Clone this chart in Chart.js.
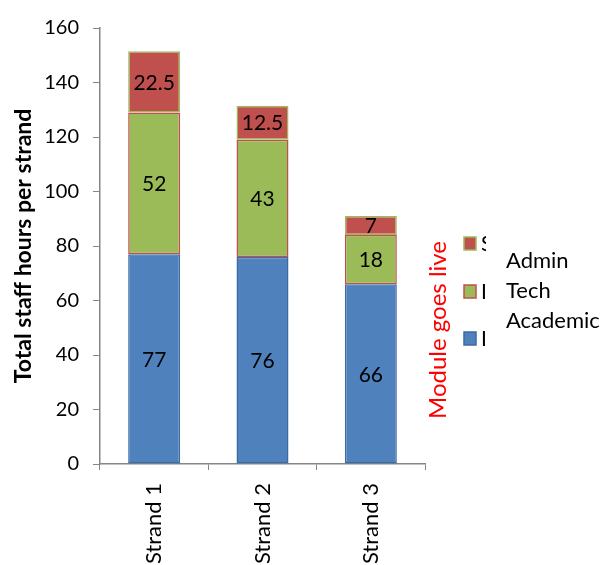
<!DOCTYPE html>
<html>
<head>
<meta charset="utf-8">
<script src="https://cdn.jsdelivr.net/npm/chart.js@4"></script>
<style>
  html, body { margin: 0; padding: 0; background: #fff; }
  #wrap { width: 603px; height: 565px; }
</style>
</head>
<body>
<div id="wrap"><canvas id="hoursChart" width="603" height="565"></canvas></div>
<script>
const strands = ['Strand 1', 'Strand 2', 'Strand 3'];
const academic = [77, 76, 66];
const tech = [52, 43, 18];
const admin = [22.5, 12.5, 7];
const yTicks = [0, 20, 40, 60, 80, 100, 120, 140, 160];
const legendNames = ['Admin', 'Tech', 'Academic'];
const noteText = 'Module goes live';

const FONT = 'Lato, "Open Sans", sans-serif';

// value written in the middle of each stacked segment
const segmentLabels = {
    id: 'segmentLabels',
    afterDatasetsDraw(chart) {
        const ctx = chart.ctx;
        ctx.save();
        ctx.font = '21px ' + FONT;
        ctx.fillStyle = '#000';
        ctx.textAlign = 'center';
        ctx.textBaseline = 'middle';
        chart.data.datasets.forEach((ds, i) => {
            chart.getDatasetMeta(i).data.forEach((bar, j) => {
                const p = bar.getProps(['x', 'y', 'base'], true);
                ctx.fillText(String(ds.data[j]), p.x, (p.y + p.base) / 2 + 1);
            });
        });
        ctx.restore();
    }
};

// side note and legend keys to the right of the plot
const sideNotes = {
    id: 'sideNotes',
    afterDraw(chart) {
        const ctx = chart.ctx;
        const area = chart.chartArea;
        ctx.save();

        ctx.translate(area.right + 13, (area.top + area.bottom) / 2 + 84);
        ctx.rotate(-Math.PI / 2);
        ctx.font = '24px ' + FONT;
        ctx.fillStyle = '#ff0000';
        ctx.textAlign = 'center';
        ctx.textBaseline = 'middle';
        ctx.fillText(noteText, 0, 0);
        ctx.setTransform(1, 0, 0, 1, 0, 0);

        // keys, top to bottom: Admin, Tech, Academic
        const order = [2, 1, 0];
        const keyY = [243, 291, 338];
        order.forEach((dsIndex, k) => {
            const ds = chart.data.datasets[dsIndex];
            ctx.fillStyle = ds.backgroundColor;
            ctx.strokeStyle = ds.borderColor;
            ctx.lineWidth = 1.5;
            ctx.fillRect(464, keyY[k] - 6, 12, 13);
            ctx.strokeRect(464, keyY[k] - 6, 12, 13);
            ctx.fillStyle = '#000';
            ctx.font = '21px ' + FONT;
            ctx.textAlign = 'left';
            ctx.textBaseline = 'middle';
            ctx.fillText(k === 0 ? 'S' : 'I', 481, keyY[k] + 1);
        });

        // label box laid over the keys
        ctx.fillStyle = '#fff';
        ctx.fillRect(486, 236, 117, 110);
        ctx.fillStyle = '#000';
        ctx.font = '22px ' + FONT;
        ctx.textAlign = 'left';
        ctx.textBaseline = 'middle';
        legendNames.forEach((name, k) => {
            ctx.fillText(name, 506, 261 + k * 30);
        });
        ctx.restore();
    }
};

new Chart(document.getElementById('hoursChart'), {
    type: 'bar',
    data: {
        labels: strands,
        datasets: [
            {
                label: 'Academic',
                data: academic,
                backgroundColor: '#4f81bd',
                borderColor: '#3b6ba5',
                borderWidth: 1.5,
                borderSkipped: false
            },
            {
                label: 'Tech',
                data: tech,
                backgroundColor: '#9bbb59',
                borderColor: '#c0504d',
                borderWidth: 1.5,
                borderSkipped: false
            },
            {
                label: 'Admin',
                data: admin,
                backgroundColor: '#c0504d',
                borderColor: '#9bbb59',
                borderWidth: 1.5,
                borderSkipped: false
            }
        ]
    },
    options: {
        responsive: false,
        animation: false,
        layout: { padding: { top: 28, right: 178, left: 10, bottom: 0 } },
        categoryPercentage: 1,
        barPercentage: 0.48,
        plugins: {
            legend: { display: false },
            tooltip: { enabled: false }
        },
        scales: {
            x: {
                stacked: true,
                offset: true,
                grid: {
                    offset: true,
                    drawOnChartArea: false,
                    color: '#868686',
                    tickLength: 6
                },
                border: { color: '#868686', width: 1.5 },
                ticks: {
                    minRotation: 90,
                    maxRotation: 90,
                    padding: 13,
                    color: '#000',
                    font: { family: FONT, size: 22 }
                },
                afterFit(scale) { scale.height = 101; }
            },
            y: {
                stacked: true,
                min: 0,
                max: 160,
                afterBuildTicks(scale) {
                    scale.ticks = yTicks.map(v => ({ value: v }));
                },
                grid: {
                    drawOnChartArea: false,
                    color: '#868686',
                    tickLength: 7
                },
                border: { color: '#868686', width: 1.5 },
                ticks: {
                    padding: 14,
                    color: '#000',
                    font: { family: FONT, size: 20 }
                },
                title: {
                    display: true,
                    text: 'Total staff hours per strand',
                    color: '#000',
                    font: { family: FONT, size: 23, weight: 'bold' },
                    padding: { top: 0, bottom: 0 }
                },
                afterFit(scale) { scale.width = 90; }
            }
        }
    },
    plugins: [segmentLabels, sideNotes]
});
</script>
</body>
</html>
